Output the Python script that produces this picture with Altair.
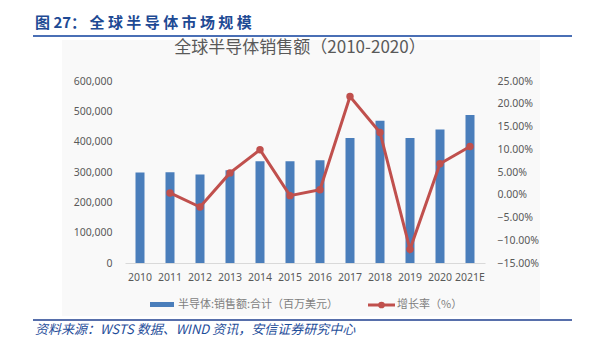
import altair as alt
import pandas as pd

years = ["2010", "2011", "2012", "2013", "2014", "2015", "2016", "2017", "2018", "2019", "2020", "2021E"]
sales = [298315, 299521, 291562, 305584, 335843, 335168, 338931, 412221, 468778, 412307, 440389, 488000]
growth_years = years[1:]
growth = [0.004, -0.027, 0.048, 0.099, -0.002, 0.011, 0.216, 0.137, -0.120, 0.068, 0.106]
pct_ticks = [-0.15, -0.10, -0.05, 0.0, 0.05, 0.10, 0.15, 0.20, 0.25]
sales_ticks = [0, 100000, 200000, 300000, 400000, 500000, 600000]

fig_title = "图 27： 全 球 半 导 体 市 场 规 模"
chart_title = "全球半导体销售额（2010-2020）"
legend_bar = "半导体:销售额:合计（百万美元）"
legend_line = "增长率（%）"
source = "资料来源：WSTS 数据、WIND 资讯，安信证券研究中心"

CJK = "Noto Sans CJK SC"
NUM = "Noto Sans"
GRAY = "#595959"
BLUE = "#4a7ebb"
RED = "#c0504d"

bars_df = pd.DataFrame({"year": years, "sales": sales})
line_df = pd.DataFrame({"year": growth_years, "growth": growth})

xscale = alt.Scale(domain=years, paddingInner=0, paddingOuter=0)
xaxis = alt.Axis(title=None, labelAngle=0, domainColor="#d9d9d9", ticks=False, zindex=1,
                 labelPadding=9, labelColor=GRAY, labelFont=NUM, labelFontSize=10.5, grid=False,
                 labelOverlap=False)

bg = alt.Chart(pd.DataFrame({"a": [0]})).mark_rect(color="#f9f9f9").encode(
    x=alt.value(-63), x2=alt.value(415), y=alt.value(-41), y2=alt.value(235))

bars = alt.Chart(bars_df).mark_bar(size=9, color=BLUE).encode(
    x=alt.X("year:N", scale=xscale, axis=xaxis, sort=years),
    y=alt.Y("sales:Q", scale=alt.Scale(domain=[0, 600000], nice=False),
            axis=alt.Axis(title=None, values=sales_ticks,
                          labelExpr="format(datum.value, ',')", labelOverlap=False,
                          domain=False, ticks=False, grid=False, labelPadding=13, zindex=1,
                          labelColor=GRAY, labelFont=NUM, labelFontSize=10.5)),
)

yaxis_r = alt.Axis(title=None, orient="right", zindex=1, values=pct_ticks,
                   labelExpr="format(datum.value, '.2%')", labelOverlap=False, labelBound=False,
                   domain=False, ticks=False, grid=False, labelPadding=12,
                   labelColor=GRAY, labelFont=NUM, labelFontSize=10.5)
yscale_r = alt.Scale(domain=[-0.15, 0.25], nice=False)

line = alt.Chart(line_df).mark_line(color=RED, strokeWidth=3).encode(
    x=alt.X("year:N", scale=xscale, sort=years),
    y=alt.Y("growth:Q", scale=yscale_r, axis=yaxis_r))
pts = alt.Chart(line_df).mark_point(filled=True, size=55, color=RED, opacity=1).encode(
    x=alt.X("year:N", scale=xscale, sort=years),
    y=alt.Y("growth:Q", scale=yscale_r, axis=yaxis_r))

lines_layer = alt.layer(line, pts)

one = pd.DataFrame({"a": [0]})

title_t = alt.Chart(pd.DataFrame({"t": [fig_title]})).mark_text(
    font=CJK, fontSize=15, fontWeight="bold", color="#1e4a94", align="left", baseline="middle"
).encode(text="t:N", x=alt.value(-90), y=alt.value(-58))

top_rule = alt.Chart(one).mark_rule(color="#4a6fb5", strokeWidth=2).encode(
    x=alt.value(-92), x2=alt.value(447), y=alt.value(-45))

ctitle = alt.Chart(pd.DataFrame({"t": [chart_title]})).mark_text(
    font=CJK, fontSize=17, color=GRAY, align="center", baseline="middle"
).encode(text="t:N", x=alt.value(175), y=alt.value(-33))

leg_rect = alt.Chart(one).mark_rect(color=BLUE).encode(
    x=alt.value(25), x2=alt.value(49), y=alt.value(221), y2=alt.value(226))
leg_t1 = alt.Chart(pd.DataFrame({"t": [legend_bar]})).mark_text(
    font=CJK, fontSize=11, color="#7f7f7f", align="left", baseline="middle"
).encode(text="t:N", x=alt.value(53), y=alt.value(224))
leg_line = alt.Chart(one).mark_rule(color=RED, strokeWidth=3).encode(
    x=alt.value(243), x2=alt.value(270), y=alt.value(224))
leg_pt = alt.Chart(one).mark_point(filled=True, size=45, color=RED, opacity=1).encode(
    x=alt.value(256.5), y=alt.value(224))
leg_t2 = alt.Chart(pd.DataFrame({"t": [legend_line]})).mark_text(
    font=CJK, fontSize=11, color="#7f7f7f", align="left", baseline="middle"
).encode(text="t:N", x=alt.value(272), y=alt.value(224))

bot_rule = alt.Chart(one).mark_rule(color="#1f3f8f", strokeWidth=1.5).encode(
    x=alt.value(-92), x2=alt.value(447), y=alt.value(239))
src = alt.Chart(pd.DataFrame({"t": [source]})).mark_text(
    font=CJK, fontSize=13, fontStyle="italic", color="#1f4e9a", align="left", baseline="middle"
).encode(text="t:N", x=alt.value(-90), y=alt.value(249))

chart = alt.layer(
    bg, bars, lines_layer, title_t, top_rule, ctitle, leg_rect, leg_t1, leg_line, leg_pt, leg_t2,
    bot_rule, src
).resolve_scale(y="independent").properties(
    width=360, height=182,
    padding={"left": 125, "top": 81, "right": 108, "bottom": 76},
    autosize=alt.AutoSizeParams(type="none"),
    background="white",
).configure_view(stroke=None)

chart.save("out.html", embed_options={"renderer": "svg", "actions": False})
